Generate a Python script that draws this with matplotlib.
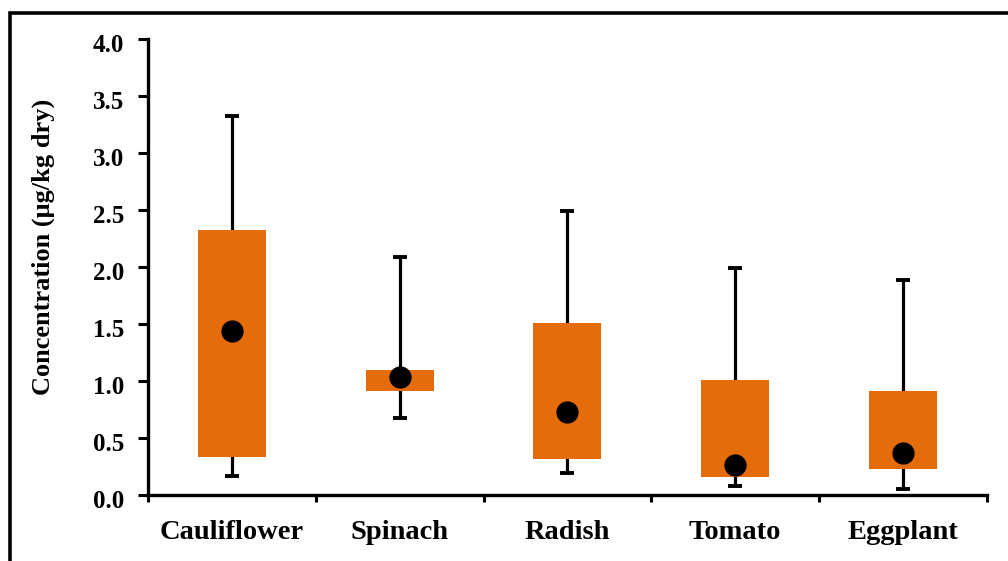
import matplotlib
matplotlib.use("Agg")
from matplotlib import pyplot as plt
from matplotlib.patches import Rectangle
from matplotlib.transforms import ScaledTranslation
import numpy as np

# data
vegetables = ["Cauliflower", "Spinach", "Radish", "Tomato", "Eggplant"]
v_min = [0.17, 0.68, 0.19, 0.08, 0.055]
v_q1 = [0.33, 0.91, 0.32, 0.16, 0.23]
v_mid = [1.44, 1.04, 0.73, 0.26, 0.37]
v_q3 = [2.33, 1.10, 1.51, 1.01, 0.91]
v_max = [3.33, 2.09, 2.49, 1.99, 1.89]
y_ticks = [0.0, 0.5, 1.0, 1.5, 2.0, 2.5, 3.0, 3.5, 4.0]

orange = "#E46C0A"

plt.rcParams["font.family"] = ["Liberation Serif", "DejaVu Serif"]
plt.rcParams["font.weight"] = "bold"

fig = plt.figure(figsize=(10.08, 5.61), dpi=100)
ax = fig.add_axes([0.1468, 0.1176, 0.8322, 0.8124])

x = np.arange(len(vegetables))
v_min = np.array(v_min)
v_q1 = np.array(v_q1)
v_mid = np.array(v_mid)
v_q3 = np.array(v_q3)
v_max = np.array(v_max)

# whiskers with caps
ax.errorbar(x, v_mid, yerr=[v_mid - v_min, v_max - v_mid], fmt="none",
            ecolor="black", elinewidth=2.3, capsize=4.8, capthick=2.8, zorder=1)
# boxes
ax.bar(x, v_q3 - v_q1, bottom=v_q1, width=0.405, color=orange, zorder=2)
# points
ax.plot(x, v_mid, "o", color="black", markersize=15, zorder=3)

ax.set_xlim(-0.5, len(vegetables) - 0.5)
ax.set_ylim(0, 4.0)
ax.set_yticks(y_ticks)
ax.set_yticklabels(["%.1f" % v for v in y_ticks], fontsize=18, fontweight="bold")
ax.set_xticks(np.arange(len(vegetables) + 1) - 0.5)
ax.set_xticklabels([])
ax.set_xticks(x, minor=True)
ax.set_xticklabels(vegetables, minor=True, fontsize=20.5, fontweight="bold")
ax.tick_params(axis="x", which="major", length=5, width=2.2, direction="out")
ax.tick_params(axis="x", which="minor", length=0, pad=18)
ax.tick_params(axis="y", length=7, width=2.2, direction="out", pad=10)

# tick labels sit a little lower than the ticks in the original
shift = ScaledTranslation(0, -4 / 100, fig.dpi_scale_trans)
for lab in ax.get_yticklabels():
    lab.set_transform(lab.get_transform() + shift)

for s in ["top", "right"]:
    ax.spines[s].set_visible(False)
for s in ["left", "bottom"]:
    ax.spines[s].set_linewidth(2.4)

ax.set_ylabel("Concentration (μg/kg dry)", fontsize=19, fontweight="bold")
ax.yaxis.set_label_coords(-0.111, 0.544)

# frame round the figure (runs off to right and bottom)
fig.patches.append(Rectangle((9.5 / 1008, -0.1), 1.2, 1 - 12.5 / 561 + 0.1,
                             transform=fig.transFigure, fill=False,
                             edgecolor="black", linewidth=2.6))

fig.savefig("out.png", dpi=100)
